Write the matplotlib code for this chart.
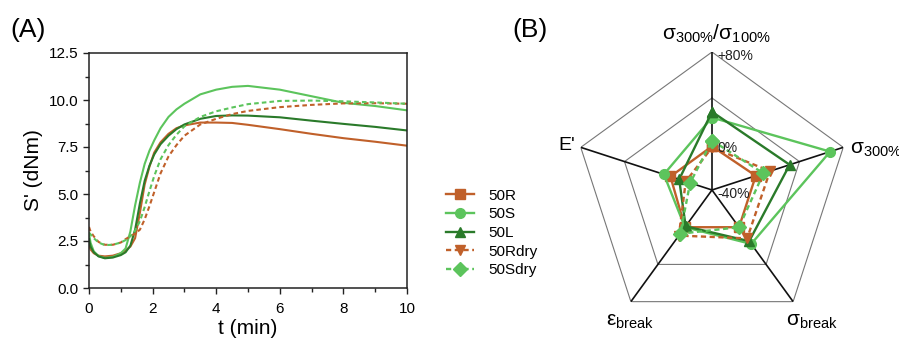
import numpy as np
import matplotlib
matplotlib.use('Agg')
import matplotlib.pyplot as plt
from matplotlib.ticker import MultipleLocator

plt.rcParams['font.family'] = ['Liberation Sans', 'DejaVu Sans']
plt.rcParams['mathtext.fontset'] = 'custom'
plt.rcParams['mathtext.rm'] = 'Liberation Sans'
plt.rcParams['mathtext.it'] = 'Liberation Sans'
plt.rcParams['mathtext.bf'] = 'Liberation Sans:bold'

# ---- (A) cure curves, S' (dNm) vs t (min)
t_min = [0, 0.05, 0.15, 0.3, 0.5, 0.75, 1.0, 1.15, 1.3, 1.45, 1.6, 1.75, 1.9,
         2.05, 2.25, 2.5, 2.75, 3.0, 3.5, 4.0, 4.5, 5.0, 6.0, 7.0, 8.0, 9.0, 10.0]
s_50R = [2.3, 2.05, 1.85, 1.72, 1.68, 1.72, 1.85, 2.0, 2.2, 2.65, 4.0, 5.5, 6.45,
         7.2, 7.75, 8.2, 8.5, 8.65, 8.8, 8.8, 8.78, 8.68, 8.45, 8.2, 7.97, 7.78, 7.57]
s_50S = [2.9, 2.4, 1.95, 1.7, 1.6, 1.65, 1.85, 2.1, 3.0, 4.4, 5.6, 6.6, 7.3,
         7.85, 8.5, 9.1, 9.5, 9.8, 10.3, 10.55, 10.7, 10.75, 10.55, 10.2, 9.85, 9.68, 9.45]
s_50L = [2.6, 2.2, 1.9, 1.68, 1.58, 1.62, 1.75, 1.9, 2.25, 3.1, 4.5, 5.7, 6.5,
         7.1, 7.65, 8.1, 8.45, 8.7, 9.0, 9.15, 9.18, 9.17, 9.08, 8.9, 8.73, 8.57, 8.38]
s_50Rdry = [3.25, 3.0, 2.75, 2.45, 2.3, 2.3, 2.42, 2.6, 2.75, 2.9, 3.1, 3.65, 4.35,
            5.1, 6.1, 7.0, 7.6, 8.1, 8.7, 9.0, 9.25, 9.42, 9.62, 9.74, 9.82, 9.83, 9.8]
s_50Sdry = [2.95, 2.85, 2.65, 2.42, 2.28, 2.3, 2.42, 2.55, 2.75, 3.05, 3.55, 4.3, 5.15,
            5.95, 6.85, 7.6, 8.15, 8.6, 9.1, 9.4, 9.6, 9.78, 9.95, 9.97, 9.93, 9.87, 9.8]

# ---- (B) radar, change in % (axis runs from -40% at centre to +80%)
radar_labels = [r'$\mathrm{\sigma}_{\mathrm{300\%}}/\mathrm{\sigma}_{\mathrm{100\%}}$',
                r'$\mathrm{\sigma}_{\mathrm{300\%}}$',
                r'$\mathrm{\sigma}_{\mathrm{break}}$',
                r'$\mathrm{ε}_{\mathrm{break}}$',
                "E'"]
r_50R = [-2, 0, 0, 0, -2]
r_50S = [23, 68, 18, 0, 4]
r_50L = [28, 31, 15, -1, -10]
r_50Rdry = [-3, 13, 12, 9, -16]
r_50Sdry = [3, 7, 0, 7, -20]

names = ['50R', '50S', '50L', '50Rdry', '50Sdry']
orange = '#C0602A'
lgreen = '#5CC45C'
dgreen = '#2A7A2A'
colors = [orange, lgreen, dgreen, orange, lgreen]
markers = ['s', 'o', '^', 'v', 'D']
dashed = [False, False, False, True, True]

W, H = 899, 343
fig = plt.figure(figsize=(W / 100, H / 100), dpi=100)

# ---------------- panel A
ax = fig.add_axes([89 / W, 1 - 288 / H, 318 / W, 235 / H])
curves = [s_50R, s_50S, s_50L, s_50Rdry, s_50Sdry]
for s, c, d in zip(curves, colors, dashed):
    if d:
        ax.plot(t_min, s, color=c, lw=1.5, dashes=(2.2, 1.5))
    else:
        ax.plot(t_min, s, color=c, lw=1.5)
ax.set_xlim(0, 10)
ax.set_ylim(0, 12.5)
ax.xaxis.set_major_locator(MultipleLocator(2))
ax.xaxis.set_minor_locator(MultipleLocator(1))
ax.yaxis.set_major_locator(MultipleLocator(2.5))
ax.yaxis.set_minor_locator(MultipleLocator(1.25))
ax.yaxis.set_major_formatter(matplotlib.ticker.FormatStrFormatter('%.1f'))
ax.tick_params(which='both', direction='out', top=False, right=False,
               labelsize=11, width=1, color='#222222')
ax.tick_params(which='major', length=4)
ax.tick_params(which='minor', length=3)
ax.tick_params(axis='x', pad=6)
for sp in ax.spines.values():
    sp.set_linewidth(1.1)
    sp.set_color('#222222')
ax.set_xlabel('t (min)', fontsize=15, labelpad=2)
ax.set_ylabel("S' (dNm)", fontsize=15, labelpad=4)
fig.text(10 / W, 1 - 30 / H, '(A)', fontsize=19, va='center', ha='left')

# ---------------- panel B (radar)
cx, cy, rad = 712, 190, 138
pax = fig.add_axes([(cx - rad) / W, 1 - (cy + rad) / H, 2 * rad / W, 2 * rad / H],
                   projection='polar')
pax.set_theta_offset(np.pi / 2)
pax.set_theta_direction(-1)
pax.set_ylim(-40, 80)
pax.grid(False)
pax.set_xticks([])
pax.set_yticks([])
pax.spines['polar'].set_visible(False)
pax.patch.set_visible(False)

n = len(radar_labels)
ang = np.arange(n) * 2 * np.pi / n
ang_c = np.append(ang, ang[0])
for lev in [40, 80]:
    pax.plot(ang_c, [lev] * (n + 1), color='#777777', lw=0.8, zorder=1)
for a in ang:
    pax.plot([a, a], [-40, 80], color='#111111', lw=1.2, zorder=2)

radar = [r_50R, r_50S, r_50L, r_50Rdry, r_50Sdry]
handles = []
for vals, c, m, d, nm in zip(radar, colors, markers, dashed, names):
    v = list(vals) + [vals[0]]
    if d:
        ln, = pax.plot(ang_c, v, color=c, lw=1.7, dashes=(2.2, 1.5), marker=m,
                       ms=7, zorder=3, label=nm, clip_on=False)
    else:
        ln, = pax.plot(ang_c, v, color=c, lw=1.7, marker=m, ms=7, zorder=3,
                       label=nm, clip_on=False)
    handles.append(ln)

# scale labels
for lev, txt in [(80, '+80%'), (0, '0%'), (-40, '-40%')]:
    pax.annotate(txt, xy=(0, lev), xytext=(5, -4), textcoords='offset pixels',
                 fontsize=10, ha='left', va='center', color='#222222')

# axis labels
pax.annotate(radar_labels[0], xy=(0, 80), xytext=(4, 18), textcoords='offset pixels',
             fontsize=15, ha='center', va='center')
pax.annotate(radar_labels[1], xy=(ang[1], 80), xytext=(7, -2), textcoords='offset pixels',
             fontsize=15, ha='left', va='center')
pax.annotate(radar_labels[2], xy=(ang[2], 80), xytext=(19, -20), textcoords='offset pixels',
             fontsize=15, ha='center', va='center')
pax.annotate(radar_labels[3], xy=(ang[3], 80), xytext=(-1, -20), textcoords='offset pixels',
             fontsize=15, ha='center', va='center')
pax.annotate(radar_labels[4], xy=(ang[4], 80), xytext=(-6, 2), textcoords='offset pixels',
             fontsize=14, ha='right', va='center')

fig.text(530 / W, 1 - 30 / H, '(B)', fontsize=19, va='center', ha='center')

fig.legend(handles=handles, labels=names, loc='center left',
           bbox_to_anchor=(446 / W, 1 - 233 / H), frameon=False, fontsize=11,
           handlelength=1.8, handletextpad=1.0, labelspacing=0.3,
           borderpad=0, borderaxespad=0)

fig.savefig('out.png', dpi=100)
